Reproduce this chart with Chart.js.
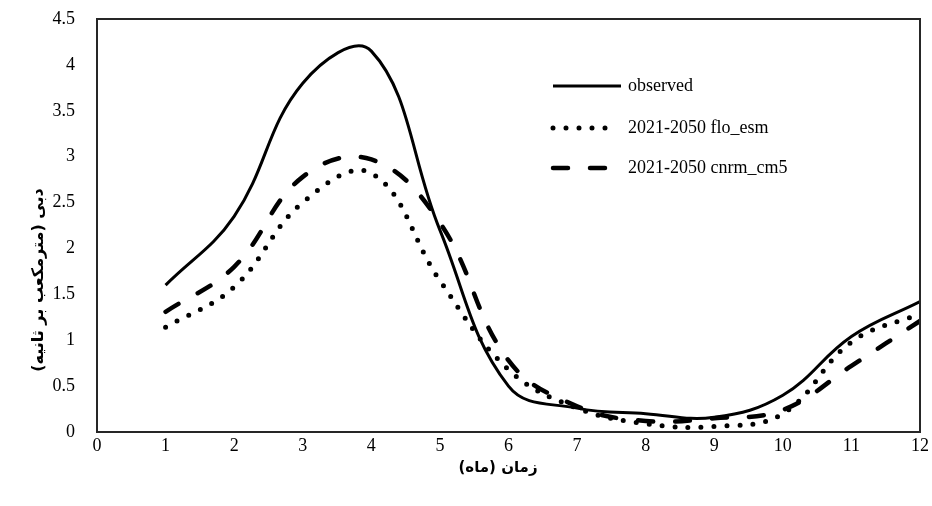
<!DOCTYPE html>
<html>
<head>
<meta charset="utf-8">
<script src="https://cdn.jsdelivr.net/npm/chart.js@4"></script>
<style>
    html, body { margin: 0; padding: 0; background: #fff; }
    #box { width: 932px; height: 506px; }
</style>
</head>
<body>
<div id="box"><canvas id="myChart"></canvas></div>
<script>

// ===============================
// DATA
// ===============================

const months = [1, 2, 3, 4, 5, 6, 7, 8, 9, 10, 11, 12];

const observed = [1.60, 2.35, 3.80, 4.15, 2.20, 0.50, 0.26, 0.20, 0.16, 0.40, 1.04, 1.42];

const floEsm = [1.14, 1.58, 2.50, 2.82, 1.65, 0.68, 0.26, 0.09, 0.06, 0.20, 0.98, 1.29];

const cnrmCm5 = [1.31, 1.80, 2.78, 2.97, 2.28, 0.78, 0.28, 0.12, 0.15, 0.24, 0.72, 1.21];

const seriesNames = ['observed', '2021-2050 flo_esm', '2021-2050 cnrm_cm5'];

const xTitle = 'زمان (ماه)';
const yTitle = 'دبی (مترمکعب بر ثانیه)';

function toPoints(values){
    return values.map((v, i) => ({ x: months[i], y: v }));
}

// ===============================
// BOX + TITLES + LEGEND
// ===============================

const extras = {
    id: 'extras',
    afterDraw(chart){
        let ctx = chart.ctx;
        let area = chart.chartArea;

        ctx.save();

        // frame
        ctx.strokeStyle = '#262626';
        ctx.lineWidth = 2;
        ctx.strokeRect(area.left, area.top, area.right - area.left, area.bottom - area.top);

        ctx.fillStyle = '#000';
        ctx.textAlign = 'center';
        ctx.textBaseline = 'middle';

        // x title
        ctx.font = 'bold 15px "DejaVu Sans"';
        ctx.fillText(xTitle, 498, 468);

        // y title
        ctx.font = 'bold 16px "DejaVu Sans"';
        ctx.translate(39, 280);
        ctx.rotate(-Math.PI / 2);
        ctx.fillText(yTitle, 0, 0);
        ctx.setTransform(1, 0, 0, 1, 0, 0);

        // legend
        let rows = [86, 128, 168];
        chart.data.datasets.forEach((ds, i) => {
            ctx.beginPath();
            ctx.strokeStyle = '#000';
            ctx.lineWidth = ds.borderWidth;
            ctx.lineCap = ds.borderCapStyle || 'butt';
            ctx.setLineDash(ds.borderDash || []);
            ctx.moveTo(553, rows[i]);
            ctx.lineTo(i == 1 ? 612 : 621, rows[i]);
            ctx.stroke();
            ctx.setLineDash([]);
            ctx.fillStyle = '#000';
            ctx.font = '18px "Liberation Serif"';
            ctx.textAlign = 'left';
            ctx.textBaseline = 'middle';
            ctx.fillText(ds.label, 628, rows[i]);
        });

        ctx.restore();
    }
};

// ===============================
// CHART
// ===============================

const ctx = document.getElementById('myChart').getContext('2d');

const myChart = new Chart(ctx, {

    type: 'line',

    data: {
        datasets: [
            {
                label: seriesNames[0],
                data: toPoints(observed),
                borderColor: '#000',
                borderWidth: 3,
                tension: 0.4,
                pointRadius: 0
            },
            {
                label: seriesNames[1],
                data: toPoints(floEsm),
                borderColor: '#000',
                borderWidth: 5,
                borderDash: [0, 13],
                borderCapStyle: 'round',
                tension: 0.4,
                pointRadius: 0
            },
            {
                label: seriesNames[2],
                data: toPoints(cnrmCm5),
                borderColor: '#000',
                borderWidth: 4.5,
                borderDash: [15, 22],
                borderCapStyle: 'round',
                tension: 0.4,
                pointRadius: 0
            }
        ]
    },

    options: {
        responsive: true,
        maintainAspectRatio: false,
        animation: false,
        layout: {
            padding: { top: 19, right: 12, left: 0, bottom: 0 }
        },
        plugins: {
            legend: { display: false },
            tooltip: { enabled: false }
        },
        scales: {
            x: {
                type: 'linear',
                min: 0,
                max: 12,
                grid: { display: false, drawTicks: false },
                border: { display: false },
                ticks: {
                    stepSize: 1,
                    padding: 3,
                    color: '#000',
                    font: { family: 'Liberation Serif', size: 18 }
                },
                afterFit(scale){
                    scale.height = 74;
                    scale.paddingLeft = 0;
                    scale.paddingRight = 0;
                }
            },
            y: {
                min: 0,
                max: 4.5,
                grid: { display: false, drawTicks: false },
                border: { display: false },
                ticks: {
                    stepSize: 0.5,
                    padding: 22,
                    color: '#000',
                    font: { family: 'Liberation Serif', size: 18 },
                    callback: (v) => String(v)
                },
                afterFit(scale){
                    scale.width = 97;
                    scale.paddingTop = 0;
                    scale.paddingBottom = 0;
                }
            }
        }
    },

    plugins: [extras]
});

</script>
</body>
</html>
